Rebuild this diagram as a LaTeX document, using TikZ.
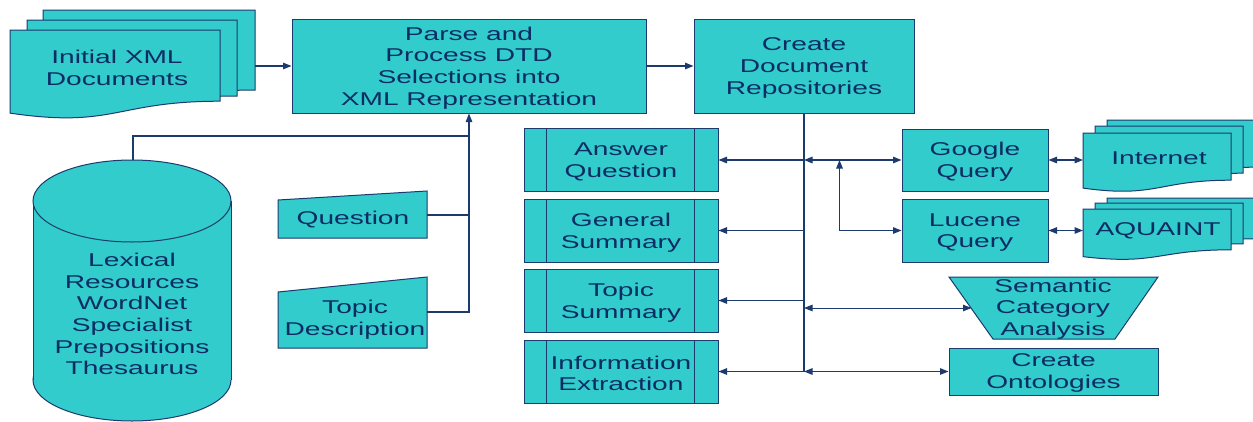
\documentclass[tikz,border=0pt]{standalone}
\usepackage{fontspec}
\setmainfont[FakeStretch=1.52]{Liberation Sans}
\usetikzlibrary{arrows.meta,calc}
\definecolor{fillc}{RGB}{51,204,204}
\definecolor{linec}{RGB}{28,58,110}
\definecolor{txtc}{RGB}{12,45,100}
\tikzset{
  base/.style={draw=linec, fill=fillc, line width=1pt},
  lbl/.style={text=txtc, font=\fontsize{18.5pt}{21.7pt}\selectfont, align=center, inner sep=0pt},
  proc/.style={base, lbl},
  conn/.style={draw=linec, line width=1.2pt},
  >={Triangle[length=8.5pt,width=6.5pt]},
}
\newcommand\mydocshape[4]{%
  \path[base] (#1,#2) -- ({#1+#3},#2) -- ({#1+#3},{#2+0.8*#4})
    .. controls ({#1+0.5*#3},{#2+0.8*#4}) and ({#1+0.5*#3},{#2+1.107*#4}) ..
    (#1,{#2+0.934*#4}) -- cycle;}
\begin{document}
\begin{tikzpicture}[x=1pt,y=-1pt]
\useasboundingbox (0,0) rectangle (1253,421);
\fill[white] (0,0) rectangle (1253,421);
\clip (0,0) rectangle (1253,421);

% Initial XML documents (stack)
\mydocshape{43}{10}{212}{100}
\mydocshape{27}{20}{210}{95}
\mydocshape{10}{30}{210}{89}
\node[lbl] (init) at (117,68) {Initial XML\\Documents};
\coordinate (initR) at (255,66);

% Parse box
\node[base, minimum width=354pt, minimum height=94pt] (parse) at (469,66) {};
\node[lbl] (parset) at (469,68) {Parse and\\Process DTD\\Selections into\\XML Representation};
% Create Document Repositories
\node[base, minimum width=220pt, minimum height=94pt] (create) at (804,66) {};
\node[lbl] (createt) at (804,68) {Create\\Document\\Repositories};
\draw[conn,->] (initR) -- (parse.west);
\draw[conn,->] (parse.east) -- (create.west);

% Cylinder
\filldraw[base] (132,380) ellipse [x radius=99, y radius=41];
\fill[fillc] (33,201) rectangle (231,380);
\draw[draw=linec, line width=1pt] (33,201) -- (33,380) (231,201) -- (231,380);
\filldraw[base] (132,201) ellipse [x radius=99, y radius=41];
\node[lbl] (lex) at (132,314) {Lexical\\Resources\\WordNet\\Specialist\\Prepositions\\Thesaurus};
\coordinate (lexTop) at (133,160);

% Question / Topic description (manual input)
\path[base] (278,200) -- (427,191) -- (427,238) -- (278,238) -- cycle;
\node[lbl] (quest) at (353,220) {Question};
\coordinate (questR) at (427,215);
\path[base] (278,292) -- (427,277) -- (427,348) -- (278,348) -- cycle;
\node[lbl] (topic) at (355,320) {Topic\\Description};
\coordinate (topicR) at (427,312);

\coordinate (j1) at (469,136);
\draw[conn] (lexTop) |- (j1);
\draw[conn] (questR) -- (questR -| parse.south);
\draw[conn,->] (topicR) -| (parse.south);

% Subprocess boxes
\foreach \n/\y/\t in {aq/160/{Answer\\Question}, gs/230.5/{General\\Summary},
                      ts/300.5/{Topic\\Summary}, ie/371.5/{Information\\Extraction}} {
  \node[base, minimum width=194pt, minimum height=63pt] (\n) at (621,\y) {};
  \node[lbl] (\n t) at (621,\y+2) {\t};
  \draw[draw=linec, line width=1pt] ([xshift=23pt]\n.north west) -- ([xshift=23pt]\n.south west)
    ([xshift=-24pt]\n.north east) -- ([xshift=-24pt]\n.south east);
}

% Bus
\coordinate (busEnd) at (create.south |- ie.east);
\draw[conn] (create.south) -- (busEnd);
\foreach \n in {aq,gs,ts,ie} { \draw[conn,->] (\n.east -| create.south) -- (\n.east); }

% Google / Lucene
\node[base, minimum width=146pt, minimum height=62pt] (google) at (975,160) {};
\node[lbl] (googlet) at (975,162) {Google\\Query};
\node[base, minimum width=146pt, minimum height=63pt] (lucene) at (975,230.5) {};
\node[lbl] (lucenet) at (975,232.5) {Lucene\\Query};
\draw[conn,<->] (google.west -| create.south) -- (google.west);
\coordinate (lj) at ($(google.west)+(-62,0)$);
\draw[conn,<->] (lj) |- (lucene.west);

% Internet stack
\mydocshape{1107}{120}{148}{59}
\mydocshape{1095}{126}{148}{59}
\mydocshape{1083}{133}{148}{59}
\node[lbl] (inet) at (1159,158) {Internet};
\coordinate (inetL) at (1083,160);
\draw[conn,<->] (google.east) -- (inetL);

% AQUAINT stack
\mydocshape{1107}{198}{148}{51}
\mydocshape{1095}{203}{148}{51}
\mydocshape{1083}{209}{148}{51}
\node[lbl] (aqu) at (1158,231) {AQUAINT};
\coordinate (aquL) at (1083,230.5);
\draw[conn,<->] (lucene.east) -- (aquL);

% Semantic Category Analysis
\path[base] (949,277) -- (1158,277) -- (1115,339) -- (993,339) -- cycle;
\node[lbl] (sem) at (1053,309) {Semantic\\Category\\Analysis};
\coordinate (semL) at (971.5,308);
\draw[conn,<->,line width=0.9pt] (semL -| create.south) -- (semL);

% Create Ontologies
\node[base, minimum width=209pt, minimum height=47pt] (ont) at (1053.5,371.5) {};
\node[lbl] (ontt) at (1053.5,373) {Create\\Ontologies};
\draw[conn,<->] (ont.west -| create.south) -- (ont.west);
\end{tikzpicture}
\end{document}
